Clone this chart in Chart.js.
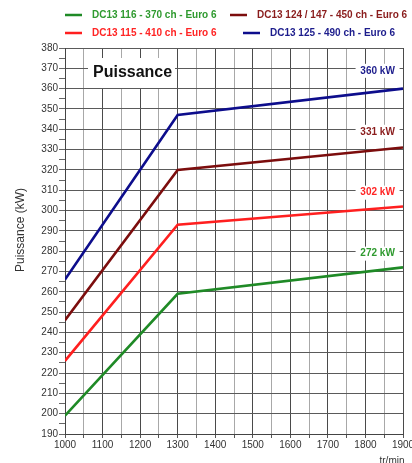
<!DOCTYPE html>
<html>
<head>
<meta charset="utf-8">
<script src="https://cdn.jsdelivr.net/npm/chart.js@4.4.1/dist/chart.umd.min.js"></script>
<style>
  html, body { margin: 0; padding: 0; background: #fff; }
  canvas { display: block; }
</style>
</head>
<body>
<canvas id="puissance" width="412" height="463"></canvas>
<script>
// données (tr/min -> kW)
const rpm = [1000, 1300, 1900];
const labels = [
  'DC13 116 - 370 ch - Euro 6',
  'DC13 124 / 147 - 450 ch - Euro 6',
  'DC13 115 - 410 ch - Euro 6',
  'DC13 125 - 490 ch - Euro 6'
];
const dc13_116 = [199, 259, 272];
const dc13_124 = [246, 320, 331];
const dc13_115 = [226, 293, 302];
const dc13_125 = [266, 347, 360];

const lineColors = ['#1f8a26', '#7c0d0d', '#ff1f1f', '#0d0d8c'];
const textColors = ['#2f9a2f', '#8a1c1c', '#ff2424', '#1c1c8c'];

(function(){
  const series = [dc13_116, dc13_124, dc13_115, dc13_125];
  const font = '"Liberation Sans", Arial, sans-serif';

  // MARK: légende, titre et étiquettes de fin de courbe
  const decor = {
    id: 'decor',
    afterDraw(chart) {
      const ctx = chart.ctx;
      const xs = chart.scales.x, ys = chart.scales.y;
      ctx.save();

      // légende sur deux lignes
      const slots = [[65, 15], [230, 15], [65, 33], [243, 33]];
      chart.data.datasets.forEach((ds, i) => {
        const [lx, ly] = slots[i];
        ctx.strokeStyle = lineColors[i];
        ctx.lineWidth = 2.5;
        ctx.beginPath();
        ctx.moveTo(lx, ly);
        ctx.lineTo(lx + 17, ly);
        ctx.stroke();
        ctx.fillStyle = textColors[i];
        ctx.font = 'bold 10px ' + font;
        ctx.textBaseline = 'middle';
        ctx.textAlign = 'left';
        ctx.fillText(ds.label, lx + 27, ly);
      });

      // titre "Puissance"
      ctx.fillStyle = '#fff';
      ctx.fillRect(88, 58, 87, 30);
      ctx.fillStyle = '#111';
      ctx.font = 'bold 16px ' + font;
      ctx.textAlign = 'left';
      ctx.fillText('Puissance', 93, 73);

      // valeurs max
      chart.data.datasets.forEach((ds, i) => {
        const last = ds.data[ds.data.length - 1].y;
        const gridVal = Math.ceil((last + 5) / 10) * 10;
        const py = ys.getPixelForValue(gridVal) + 2.5;
        const px = xs.getPixelForValue(1835);
        ctx.fillStyle = '#fff';
        ctx.fillRect(px - 23, py - 7, 44, 14);
        ctx.fillStyle = textColors[i];
        ctx.font = 'bold 10px ' + font;
        ctx.textAlign = 'center';
        ctx.fillText(last + ' kW', px - 1, py);
      });

      // titre axe Y
      ctx.translate(21, 230);
      ctx.rotate(-Math.PI / 2);
      ctx.fillStyle = '#333';
      ctx.font = '12px ' + font;
      ctx.textAlign = 'center';
      ctx.fillText('Puissance (kW)', 0, 0);
      ctx.setTransform(1, 0, 0, 1, 0, 0);

      // unité axe X
      ctx.fillStyle = '#333';
      ctx.font = '10px ' + font;
      ctx.textAlign = 'center';
      ctx.textBaseline = 'top';
      ctx.fillText('tr/min', 392, 456);
      ctx.restore();
    }
  };

  new Chart(document.getElementById('puissance'), {
    type: 'line',
    data: {
      datasets: series.map((vals, i) => ({
        label: labels[i],
        data: rpm.map((r, j) => ({ x: r, y: vals[j] })),
        borderColor: lineColors[i],
        borderWidth: 2.6,
        pointRadius: 0,
        tension: 0,
        fill: false
      }))
    },
    options: {
      responsive: false,
      animation: false,
      layout: { padding: { top: 48, right: 9, left: 0, bottom: 0 } },
      plugins: {
        legend: { display: false },
        tooltip: { enabled: false }
      },
      scales: {
        x: {
          type: 'linear',
          min: 1000,
          max: 1900,
          afterFit: s => { s.height = 29; s.paddingLeft = 0; s.paddingRight = 0; },
          ticks: {
            stepSize: 50,
            autoSkip: false,
            maxRotation: 0,
            padding: 1,
            color: '#333',
            font: { family: font, size: 10 },
            callback: v => (v % 100 === 0 ? v : '')
          },
          grid: {
            color: c => (c.tick && c.tick.value % 100 === 0 ? '#4a4a4a' : '#a8a8a8'),
            tickColor: '#555',
            tickLength: 4,
            lineWidth: 1
          },
          border: { color: '#444' }
        },
        y: {
          min: 190,
          max: 380,
          afterFit: s => { s.width = 65; s.paddingTop = 0; s.paddingBottom = 0; },
          ticks: {
            stepSize: 5,
            autoSkip: false,
            padding: 1,
            color: '#333',
            font: { family: font, size: 10 },
            callback: v => (v % 10 === 0 ? v : '')
          },
          grid: {
            color: c => (c.tick && c.tick.value % 10 === 0 ? '#5a5a5a' : 'rgba(0,0,0,0)'),
            tickColor: '#666',
            tickLength: 6,
            lineWidth: 1
          },
          border: { color: '#444' }
        }
      }
    },
    plugins: [decor]
  });
})();
</script>
</body>
</html>
